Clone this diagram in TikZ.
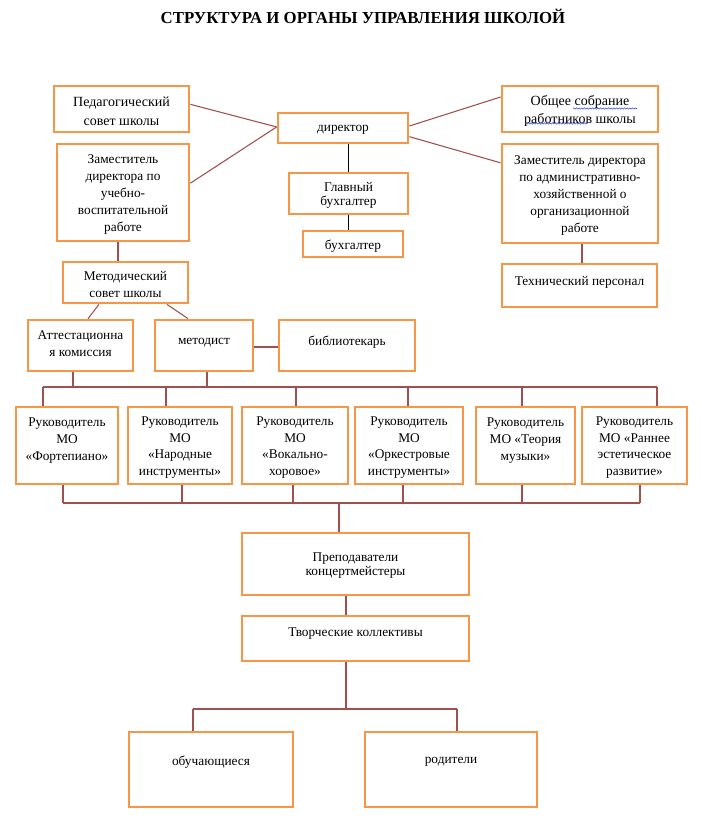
\documentclass[tikz,border=0pt]{standalone}
\usepackage{fontspec}
\setmainfont{Liberation Serif}
\usetikzlibrary{fit,decorations.pathmorphing}
\definecolor{boxc}{RGB}{247,150,70}
\definecolor{linec}{RGB}{160,80,77}
\definecolor{spellc}{RGB}{60,80,220}
\newcommand\bigf{\fontsize{10.5}{14}\selectfont}
\newcommand\smf{\fontsize{10}{12.6}\selectfont}
\newcommand\tightf{\fontsize{10}{10.5}\selectfont}
\tikzset{
  box/.style={draw=boxc, line width=2.1pt, inner sep=0pt, fill=white},
  lbl/.style={align=center, inner sep=0pt, font=\smf, yshift=-1.5pt},
  biglbl/.style={lbl, font=\bigf},
  conn/.style={draw=linec, line width=0.8pt},
  blackconn/.style={draw=black, line width=0.8pt},
  spell/.style={draw=spellc, line width=0.4pt, decorate, decoration={snake, amplitude=0.5pt, segment length=2pt}}
}
\newcommand\mybox[5]{\node[box, fit={(#2) (#3)}, label={[#4]center:{#5}}] (#1) {};}
\begin{document}
\begin{tikzpicture}[x=0.75pt,y=-0.75pt]
\useasboundingbox (0,0) rectangle (702,819);
\fill[white] (0,0) rectangle (702,819);
% title
\node[font=\bfseries\fontsize{12.6}{14}\selectfont, inner sep=0pt] (title) at (363,16) {СТРУКТУРА И ОРГАНЫ УПРАВЛЕНИЯ ШКОЛОЙ};
% connector points
\coordinate (b1L) at (43,387);
\coordinate (b1R) at (657,387);
\coordinate (s1) at (73,387);
\coordinate (s2) at (207,387);
\coordinate (d2) at (166,387);
\coordinate (d3) at (296,387);
\coordinate (d4) at (408,387);
\coordinate (d5) at (522,387);
\coordinate (b2L) at (63,503);
\coordinate (b2R) at (640,503);
\coordinate (u2) at (182,503);
\coordinate (u3) at (293,503);
\coordinate (u4) at (403,503);
\coordinate (u5) at (522,503);
\coordinate (dn) at (339,503);
\coordinate (c1) at (346,600);
\coordinate (b3L) at (193,709);
\coordinate (b3R) at (457,709);
\coordinate (b3M) at (346,709);
\coordinate (t1) at (582,250);
\coordinate (m1) at (118,250);
\coordinate (m2) at (99,310);
\coordinate (m3) at (88,310);
\coordinate (m4) at (167,310);
\coordinate (m5) at (188,310);

% boxes
\mybox{ped}{54,86}{189,132}{biglbl}{Педагогический\\совет школы}
\mybox{zuvr}{57,144}{189,241}{lbl}{Заместитель\\директора по\\учебно-\\воспитательной\\работе}
\mybox{dir}{278,113}{408,143}{lbl}{директор}
\mybox{gb}{289,173}{408,214}{lbl,font=\tightf}{Главный\\бухгалтер}
\mybox{buh}{303,231}{403,257}{lbl}{бухгалтер}
\mybox{osr}{502,86}{658,132}{biglbl}{Общее собрание\\работников школы}
\mybox{zahr}{502,144}{658,243}{lbl}{Заместитель директора\\по административно-\\хозяйственной о\\организационной\\работе}
\mybox{tech}{502,264}{657,307}{lbl,yshift=4pt}{Технический персонал}
\mybox{ms}{63,262}{188,303}{lbl}{Методический\\совет школы}
\mybox{att}{28,320}{133,371}{lbl,yshift=3pt}{Аттестационна\\я комиссия}
\mybox{met}{155,320}{253,371}{lbl,yshift=4pt}{методист}
\mybox{bib}{279,320}{415,371}{lbl,yshift=4pt}{библиотекарь}
\mybox{mo1}{16,407}{118,484}{lbl,yshift=5pt}{Руководитель\\МО\\«Фортепиано»}
\mybox{mo2}{128,407}{232,484}{lbl}{Руководитель\\МО\\«Народные\\инструменты»}
\mybox{mo3}{242,407}{348,484}{lbl}{Руководитель\\МО\\«Вокально-\\хоровое»}
\mybox{mo4}{355,407}{463,484}{lbl}{Руководитель\\МО\\«Оркестровые\\инструменты»}
\mybox{mo5}{476,407}{575,484}{lbl,yshift=5pt}{Руководитель\\МО «Теория\\музыки»}
\mybox{mo6}{582,407}{687,484}{lbl}{Руководитель\\МО «Раннее\\эстетическое\\развитие»}
\mybox{prep}{242,533}{469,595}{lbl,font=\tightf}{Преподаватели\\концертмейстеры}
\mybox{tvor}{242,616}{469,661}{lbl,yshift=5.4pt}{Творческие коллективы}
\mybox{obu}{129,732}{293,807}{lbl,yshift=7pt}{обучающиеся}
\mybox{rod}{365,732}{537,807}{lbl,yshift=7pt}{родители}

% top connectors
\draw[conn] ([yshift=3.5pt]ped.east) -- ([yshift=0.8pt]dir.west);
\draw[conn] ([yshift=7pt]zuvr.east) -- ([yshift=0.8pt]dir.west);
\draw[conn] ([yshift=1.5pt]dir.east) -- ([yshift=9pt]osr.west);
\draw[conn] ([yshift=-6.5pt]dir.east) -- ([yshift=23pt]zahr.west);
\draw[blackconn] (dir.south -| gb.north) -- (gb.north);
\draw[blackconn] (gb.south) -- (gb.south |- buh.north);
\draw[conn] (t1 |- zahr.south) -- (t1 |- tech.north);
\draw[conn] (m1 |- zuvr.south) -- (m1 |- ms.north);
\draw[conn] (m2 |- ms.south) -- (m3 |- att.north);
\draw[conn] (m4 |- ms.south) -- (m5 |- met.north);
\draw[conn] ([yshift=-1.1pt]met.east) -- ([yshift=-1.1pt]bib.west);
% bus 1
\draw[conn] (b1L) -- (b1R);
\draw[conn] (s1 |- att.south) -- (s1);
\draw[conn] (s2 |- met.south) -- (s2);
\draw[conn] (b1L) -- (b1L |- mo1.north);
\draw[conn] (d2) -- (d2 |- mo2.north);
\draw[conn] (d3) -- (d3 |- mo3.north);
\draw[conn] (d4) -- (d4 |- mo4.north);
\draw[conn] (d5) -- (d5 |- mo5.north);
\draw[conn] (b1R) -- (b1R |- mo6.north);
% bus 2
\draw[conn] (b2L) -- (b2R);
\draw[conn] (b2L |- mo1.south) -- (b2L);
\draw[conn] (u2 |- mo2.south) -- (u2);
\draw[conn] (u3 |- mo3.south) -- (u3);
\draw[conn] (u4 |- mo4.south) -- (u4);
\draw[conn] (u5 |- mo5.south) -- (u5);
\draw[conn] (b2R |- mo6.south) -- (b2R);
\draw[conn] (dn) -- (dn |- prep.north);
\draw[conn] (c1 |- prep.south) -- (c1 |- tvor.north);
\draw[conn] (b3M |- tvor.south) -- (b3M);
% bus 3
\draw[conn] (b3L) -- (b3R);
\draw[conn] (b3L) -- (b3L |- obu.north);
\draw[conn] (b3R) -- (b3R |- rod.north);
% spell-check squiggles
\draw[spell] (573,108.5) -- (637,108.5);
\draw[spell] (525,123.5) -- (588,123.5);
\end{tikzpicture}
\end{document}
